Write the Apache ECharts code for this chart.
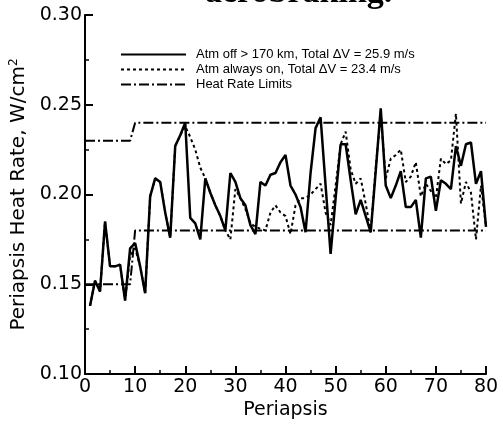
<!DOCTYPE html>
<html>
<head>
<meta charset="utf-8">
<script src="https://cdn.jsdelivr.net/npm/echarts@6/dist/echarts.min.js"></script>
<style>
  html, body { margin: 0; padding: 0; background: #fff; }
  #chart { width: 503px; height: 425px; }
</style>
</head>
<body>
<div id="chart"></div>
<script>
// periapsis heat rate, W/cm^2, for periapsis 1..80
var atmOff = [
  0.138, 0.152, 0.146, 0.185, 0.160, 0.160, 0.161, 0.141, 0.170, 0.173,
  0.160, 0.145, 0.199, 0.209, 0.207, 0.190, 0.176, 0.227, 0.233, 0.240,
  0.187, 0.184, 0.175, 0.209, 0.201, 0.194, 0.188, 0.180, 0.212, 0.207,
  0.198, 0.194, 0.183, 0.178, 0.207, 0.205, 0.211, 0.212, 0.218, 0.222,
  0.205, 0.200, 0.193, 0.179, 0.212, 0.237, 0.243, 0.205, 0.167, 0.198,
  0.228, 0.228, 0.208, 0.189, 0.197, 0.188, 0.179, 0.213, 0.248, 0.205,
  0.198, 0.205, 0.213, 0.193, 0.193, 0.197, 0.176, 0.209, 0.210, 0.191,
  0.208, 0.206, 0.203, 0.227, 0.216, 0.228, 0.229, 0.206, 0.213, 0.182
];
var atmOn = [
  0.138, 0.152, 0.146, 0.185, 0.160, 0.160, 0.161, 0.141, 0.166, 0.170,
  0.160, 0.145, 0.199, 0.209, 0.207, 0.190, 0.176, 0.227, 0.233, 0.238,
  0.232, 0.225, 0.215, 0.209, 0.201, 0.194, 0.188, 0.180, 0.175, 0.203,
  0.198, 0.192, 0.184, 0.182, 0.181, 0.180, 0.190, 0.194, 0.190, 0.188,
  0.178, 0.194, 0.198, 0.198, 0.200, 0.203, 0.206, 0.190, 0.183, 0.205,
  0.228, 0.235, 0.214, 0.206, 0.209, 0.195, 0.179, 0.215, 0.245, 0.209,
  0.220, 0.222, 0.225, 0.207, 0.210, 0.218, 0.199, 0.206, 0.202, 0.198,
  0.220, 0.217, 0.219, 0.245, 0.195, 0.207, 0.201, 0.175, 0.205, 0.182
];
// heat rate limits: [periapsis, rate]
var upperLimit = [[0, 0.23], [9, 0.23], [10, 0.24], [80, 0.24]];
var lowerLimit = [[0, 0.15], [9, 0.15], [10, 0.18], [80, 0.18]];

var yTicks = ['0.10', '0.15', '0.20', '0.25', '0.30'];
var names = [
  'Atm off > 170 km, Total \u0394V = 25.9 m/s',
  'Atm always on, Total \u0394V = 23.4 m/s',
  'Heat Rate Limits'
];

function toPairs(arr) {
  return arr.map(function (v, i) { return [i + 1, v]; });
}

var chart = echarts.init(document.getElementById('chart'));
var axisFont = 'DejaVu Sans';

chart.setOption({
  animation: false,
  backgroundColor: '#fff',
  title: {
    text: 'aerobraking.',
    left: 200,
    top: -29,
    textStyle: { fontFamily: 'Liberation Serif', fontWeight: 'bold', fontSize: 34, color: '#000' }
  },
  grid: { left: 85, right: 17, top: 15, bottom: 42 },
  legend: {
    orient: 'vertical',
    left: 115,
    top: 43,
    itemWidth: 65,
    itemHeight: 14,
    itemGap: 2,
    data: names,
    itemStyle: { opacity: 0 },
    textStyle: { fontFamily: 'Liberation Sans', fontSize: 13, color: '#000', padding: [0, 0, 0, 5] }
  },
  xAxis: {
    type: 'value',
    min: 0, max: 80, interval: 10,
    name: 'Periapsis',
    nameLocation: 'middle',
    nameGap: 20,
    nameTextStyle: { fontFamily: axisFont, fontSize: 19, color: '#000', verticalAlign: 'top' },
    axisLine: { lineStyle: { color: '#000', width: 2 } },
    axisTick: { inside: true, length: 8, lineStyle: { color: '#000', width: 2 } },
    minorTick: { show: true, splitNumber: 2, length: 4, lineStyle: { color: '#000', width: 1.5 } },
    axisLabel: { fontFamily: axisFont, fontSize: 19, color: '#000', margin: 3 },
    splitLine: { show: false }
  },
  yAxis: {
    type: 'value',
    min: 0.10, max: 0.30, interval: 0.05,
    name: 'Periapsis Heat Rate, W/cm{sup|2}',
    nameLocation: 'middle',
    nameGap: 45,
    nameTextStyle: {
      fontFamily: axisFont, fontSize: 20, color: '#000',
      rich: { sup: { fontFamily: axisFont, fontSize: 12, color: '#000', padding: [0, 0, 9, 0] } }
    },
    axisLine: { show: true, lineStyle: { color: '#000', width: 2 } },
    axisTick: { show: true, inside: true, length: 8, lineStyle: { color: '#000', width: 2 } },
    minorTick: { show: true, splitNumber: 2, length: 4, lineStyle: { color: '#000', width: 1.5 } },
    axisLabel: {
      fontFamily: axisFont, fontSize: 19, color: '#000', margin: 3,
      formatter: function (v) {
        var i = Math.round((v - 0.10) / 0.05);
        return yTicks[i] !== undefined ? yTicks[i] : '';
      }
    },
    splitLine: { show: false }
  },
  series: [
    {
      name: names[0], type: 'line', symbol: 'none',
      data: toPairs(atmOff),
      lineStyle: { color: '#000', width: 2.5, type: 'solid' },
      itemStyle: { color: '#000' },
      z: 4
    },
    {
      name: names[1], type: 'line', symbol: 'none',
      data: toPairs(atmOn),
      lineStyle: { color: '#000', width: 2, type: [3, 3] },
      itemStyle: { color: '#000' },
      z: 3
    },
    {
      name: names[2], type: 'line', symbol: 'none',
      data: upperLimit,
      lineStyle: { color: '#000', width: 2, type: [10, 3, 2, 3] },
      itemStyle: { color: '#000' },
      z: 2
    },
    {
      name: names[2], type: 'line', symbol: 'none',
      data: lowerLimit,
      lineStyle: { color: '#000', width: 2, type: [10, 3, 2, 3] },
      itemStyle: { color: '#000' },
      z: 2
    }
  ]
});
</script>
</body>
</html>
